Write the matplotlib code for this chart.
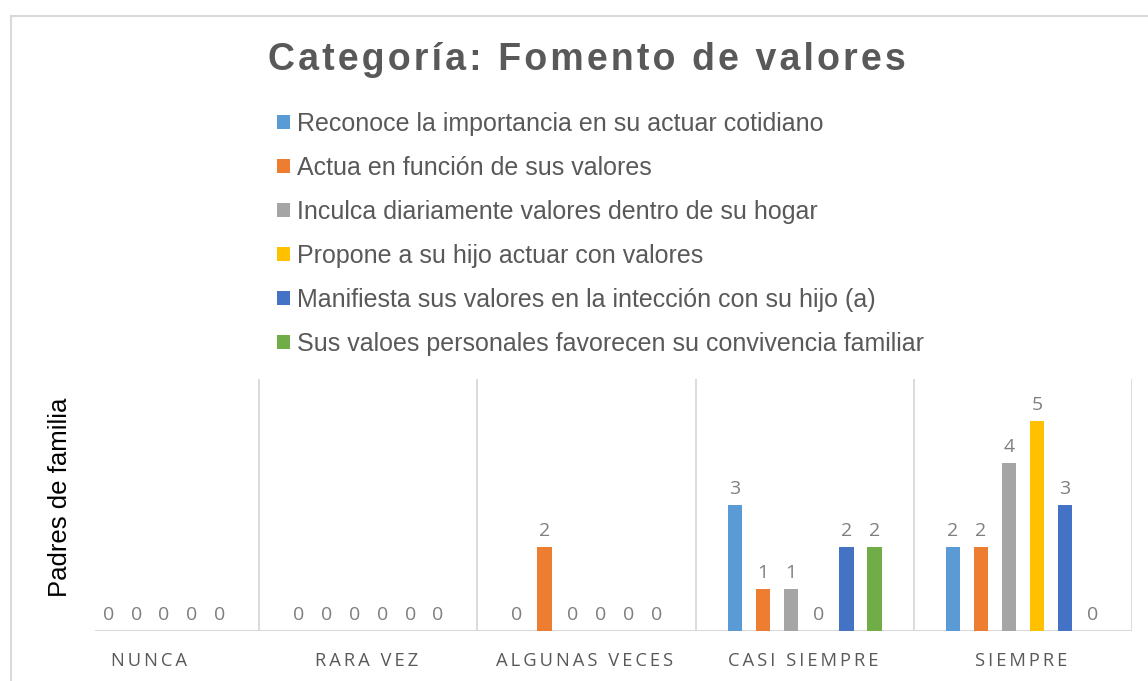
import numpy as np
import matplotlib.pyplot as plt
from matplotlib.lines import Line2D

# ── Data ─────────────────────────────────────────────────────────
categories = ["NUNCA", "RARA VEZ", "ALGUNAS VECES", "CASI SIEMPRE", "SIEMPRE"]

series_names = [
    "Reconoce la importancia en su actuar cotidiano",
    "Actua en función de sus valores",
    "Inculca diariamente valores dentro de su hogar",
    "Propone a su hijo actuar con valores",
    "Manifiesta sus valores en la intección con su hijo (a)",
    "Sus valoes personales favorecen su convivencia familiar",
]

reconoce   = [np.nan, 0, 0, 3, 2]
actua      = [0, 0, 2, 1, 2]
inculca    = [0, 0, 0, 1, 4]
propone    = [0, 0, 0, 0, 5]
manifiesta = [0, 0, 0, 2, 3]
valoes     = [0, 0, 0, 2, 0]

colors = ["#5B9BD5", "#ED7D31", "#A5A5A5", "#FFC000", "#4472C4", "#70AD47"]

title = "Categoría: Fomento de valores"
ylabel = "Padres de familia"


def spaced(s, sep="\u2009", trail=False):
    out = sep.join(s)
    return out + sep if trail else out


# ── Figure ───────────────────────────────────────────────────────
W, H = 1148, 681
fig = plt.figure(figsize=(W / 100, H / 100), dpi=100)
ax = fig.add_axes([41 / W, (H - 631) / H, (1132 - 41) / W, (631 - 379) / H])

x = np.arange(len(categories))
slot = 0.128
width = 0.066
all_series = [reconoce, actua, inculca, propone, manifiesta, valoes]

handles = []
for i, (vals, col) in enumerate(zip(all_series, colors)):
    vals = np.array(vals, dtype=float)
    pos = x + (i - 2.5) * slot
    b = ax.bar(pos, np.nan_to_num(vals), width, color=col, label=series_names[i])
    handles.append(b)
    for p, v in zip(pos, vals):
        if np.isnan(v):
            continue
        ax.annotate(f"{v:.0f}", (p, v), xytext=(0, 5), textcoords="offset points",
                    ha="center", va="bottom", fontsize=14, color="#7F7F7F",
                    family=["Open Sans", "DejaVu Sans"])

ax.set_xlim(-0.5, 4.5)
ax.set_ylim(0, 6)

# category separators + baseline
ax.vlines(x + 0.5, 0, 6, color="#D9D9D9", lw=1.3, zorder=0)
ax.axhline(0, xmin=(96 - 41) / (1132 - 41), color="#D9D9D9", lw=1.5, zorder=0)

for s in ax.spines.values():
    s.set_visible(False)
ax.set_yticks([])
ax.set_xticks(x)
ax.set_xticklabels([spaced(c, trail=True) for c in categories], fontsize=13.2,
                   color="#595959", family=["Open Sans", "DejaVu Sans"])
ax.tick_params(axis="x", length=0, pad=15)

# ── Title, legend, axis title ────────────────────────────────────
fig.text(587 / W, 1 - 60 / H, spaced(title, sep="\u200a"), ha="center", va="center",
         fontsize=27, fontweight="bold", color="#595959",
         family=["Liberation Sans", "DejaVu Sans"])

fig.legend(handles=handles, loc="upper left",
           bbox_to_anchor=(277 / W, 1 - 112 / H), frameon=False,
           prop={"family": "Liberation Sans", "size": 18},
           labelcolor="#595959", handlelength=0.5, handleheight=0.5,
           handletextpad=0.29, labelspacing=0.8, borderpad=0, borderaxespad=0)

fig.text(60 / W, 1 - 497 / H, ylabel, rotation=90, ha="center", va="center",
         fontsize=18.5, color="black", family=["Liberation Sans", "DejaVu Sans"])

# chart frame
fig.add_artist(Line2D([11 / W, 11 / W], [0, 1 - 16 / H], transform=fig.transFigure,
                      color="#D9D9D9", lw=1.5))
fig.add_artist(Line2D([11 / W, 1], [1 - 16 / H, 1 - 16 / H], transform=fig.transFigure,
                      color="#D9D9D9", lw=1.5))

fig.savefig("out.png", dpi=100)
